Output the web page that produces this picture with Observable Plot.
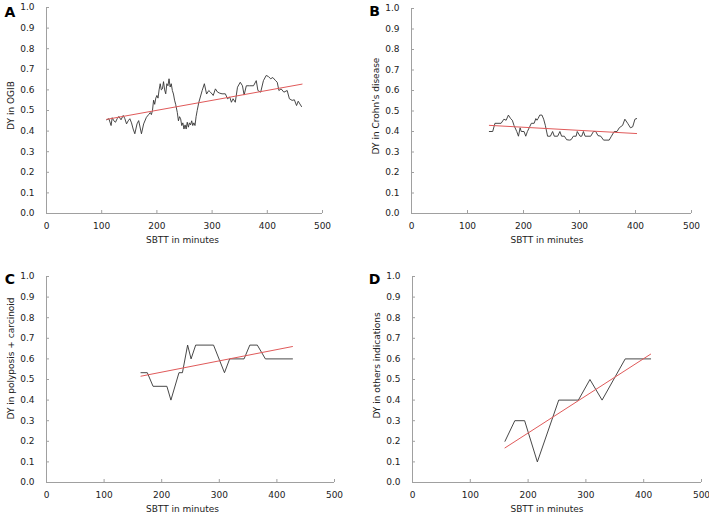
<!DOCTYPE html>
<html><head><meta charset="utf-8">
<script src="https://cdn.jsdelivr.net/npm/d3@7"></script>
<script src="https://cdn.jsdelivr.net/npm/@observablehq/plot@0.6"></script>
<style>
body{margin:0;background:#fff}
#chart{position:relative;width:709px;height:514px;font-family:"DejaVu Sans",sans-serif;overflow:hidden}
#chart svg{position:absolute}
</style></head><body><div id="chart"></div>
<script>
const xTicks = [0, 100, 200, 300, 400, 500];
const yTicks = [0, 0.1, 0.2, 0.3, 0.4, 0.5, 0.6, 0.7, 0.8, 0.9, 1.0];
const xLabel = "SBTT in minutes";

// Panel A: OGIB
const aX = [109,113,117,119,122,125,128,131,135,139,142,145,148,151,154,157,160,164,167,172,176,181,185,188,190,192,194,196,198,200,202,204,206,208,210,212,214,216,218,220,222,224,226,228,230,232,234,237,239,241,243,245,247,249,251,253,255,257,259,261,263,265,267,269,271,273,276,282,286,290,294,297,300,302,306,310,314,318,324,328,332,335,338,342,346,351,355,358,362,368,375,380,383,388,393,398,402,406,410,415,418,421,425,430,436,440,445,449,453,456,459,462];
const aY = [0.455,0.46,0.427,0.465,0.45,0.443,0.46,0.471,0.455,0.476,0.46,0.435,0.45,0.46,0.44,0.41,0.387,0.435,0.451,0.387,0.435,0.467,0.48,0.49,0.48,0.50,0.55,0.53,0.56,0.573,0.56,0.60,0.63,0.60,0.605,0.64,0.60,0.581,0.63,0.62,0.654,0.614,0.63,0.597,0.58,0.55,0.53,0.49,0.45,0.47,0.46,0.427,0.44,0.41,0.43,0.41,0.443,0.419,0.44,0.43,0.45,0.427,0.44,0.427,0.47,0.50,0.54,0.597,0.63,0.58,0.597,0.589,0.58,0.573,0.605,0.589,0.584,0.581,0.581,0.557,0.565,0.54,0.557,0.54,0.613,0.637,0.62,0.575,0.62,0.62,0.62,0.645,0.597,0.589,0.645,0.67,0.665,0.654,0.66,0.645,0.637,0.597,0.605,0.589,0.597,0.557,0.549,0.552,0.524,0.545,0.532,0.519];
const aTrendX = [109, 463];
const aTrendY = [0.457, 0.628];

// Panel B: Crohn's disease
const bX = [139,145,149,160,165,169,173,177,180,183,188,191,194,196,201,204,207,211,214,219,222,224,226,229,233,236,239,243,248,252,255,261,265,268,273,277,282,285,289,294,296,301,304,307,310,320,325,329,333,338,343,353,357,362,367,371,377,381,386,391,395,399,402];
const bY = [0.40,0.40,0.44,0.44,0.46,0.455,0.48,0.463,0.455,0.43,0.40,0.377,0.418,0.40,0.40,0.377,0.40,0.423,0.44,0.44,0.463,0.455,0.463,0.48,0.48,0.46,0.43,0.377,0.377,0.40,0.377,0.377,0.40,0.377,0.377,0.36,0.358,0.36,0.377,0.377,0.40,0.377,0.377,0.40,0.377,0.377,0.40,0.40,0.38,0.377,0.358,0.358,0.377,0.40,0.40,0.418,0.43,0.46,0.44,0.418,0.423,0.46,0.463];
const bTrendX = [139, 402];
const bTrendY = [0.43, 0.39];

// Panel C: polyposis + carcinoid
const cX = [164,175,185,209,216,230,236,245,251,259,290,309,318,343,353,366,380,427];
const cY = [0.533,0.533,0.467,0.467,0.40,0.533,0.533,0.667,0.60,0.667,0.667,0.533,0.60,0.60,0.667,0.667,0.60,0.60];
const cTrendX = [164, 427];
const cTrendY = [0.516, 0.66];

// Panel D: others indications
const dX = [160,177,194,216,253,287,307,328,368,412];
const dY = [0.20,0.30,0.30,0.10,0.40,0.40,0.50,0.40,0.60,0.60];
const dTrendX = [160, 412];
const dTrendY = [0.168, 0.623];

const zip = (xs, ys) => xs.map((x, i) => ({x, y: ys[i]}));
const chart = document.getElementById("chart");

function panel(o) {
  const axisColor = "#a0a0a0";
  const svg = Plot.plot({
    width: o.width, height: o.height,
    marginLeft: o.ml, marginRight: o.mr, marginTop: o.mt, marginBottom: o.mb,
    style: {fontFamily: "DejaVu Sans, sans-serif", fontSize: "9px", color: "#222", background: "white", overflow: "visible"},
    x: {domain: [0, 500]},
    y: {domain: [0, 1]},
    marks: [
      Plot.axisX({ticks: xTicks, tickSize: -3, tickPadding: 12, stroke: axisColor, fill: "#222", label: null, tickFormat: d3.format("d")}),
      Plot.axisY({ticks: yTicks, tickSize: -3, tickPadding: 15, stroke: axisColor, fill: "#222", label: null, tickFormat: d3.format(".1f")}),
      Plot.ruleY([0], {stroke: axisColor}),
      Plot.ruleX([0], {stroke: axisColor}),
      Plot.line(zip(o.xs, o.ys), {x: "x", y: "y", stroke: "#333", strokeWidth: 0.9}),
      Plot.line(zip(o.tx, o.ty), {x: "x", y: "y", stroke: "#e05a5a", strokeWidth: 1}),
      Plot.text([xLabel], {frameAnchor: "bottom", textAnchor: "middle", lineAnchor: "middle", dy: 26.5, dx: o.xlDx, fill: "#222"}),
      Plot.text([o.ylabel], {frameAnchor: "left", textAnchor: "middle", lineAnchor: "middle", rotate: -90, dx: -35, dy: o.ylDy, fill: "#222"}),
      Plot.text([o.letter], {frameAnchor: "top-left", textAnchor: "middle", lineAnchor: "middle", dx: o.lDx, dy: o.lDy, fontWeight: "bold", fontSize: 14, fill: "#000"})
    ]
  });
  svg.style.left = o.left + "px";
  svg.style.top = o.top + "px";
  chart.appendChild(svg);
}

panel({letter: "A", ylabel: "DY in OGIB", xs: aX, ys: aY, tx: aTrendX, ty: aTrendY,
  left: 0, top: 0, width: 354, height: 257, ml: 46, mr: 32, mt: 7, mb: 44, xlDx: -2, ylDy: -5, lDx: -36.5, lDy: 5});
panel({letter: "B", ylabel: "DY in Crohn's disease", xs: bX, ys: bY, tx: bTrendX, ty: bTrendY,
  left: 354, top: 0, width: 355, height: 257, ml: 57, mr: 18, mt: 8, mb: 44, xlDx: -4.5, ylDy: -5, lDx: -37, lDy: 3});
panel({letter: "C", ylabel: "DY in polyposis + carcinoid", xs: cX, ys: cY, tx: cTrendX, ty: cTrendY,
  left: 0, top: 257, width: 354, height: 257, ml: 46, mr: 20, mt: 19, mb: 32, xlDx: -8, ylDy: -21, lDx: -36.5, lDy: 3});
panel({letter: "D", ylabel: "DY in others indications", xs: dX, ys: dY, tx: dTrendX, ty: dTrendY,
  left: 354, top: 257, width: 355, height: 257, ml: 58, mr: 8, mt: 19, mb: 32, xlDx: -10, ylDy: -14, lDx: -38, lDy: 3});
</script>
</body></html>
